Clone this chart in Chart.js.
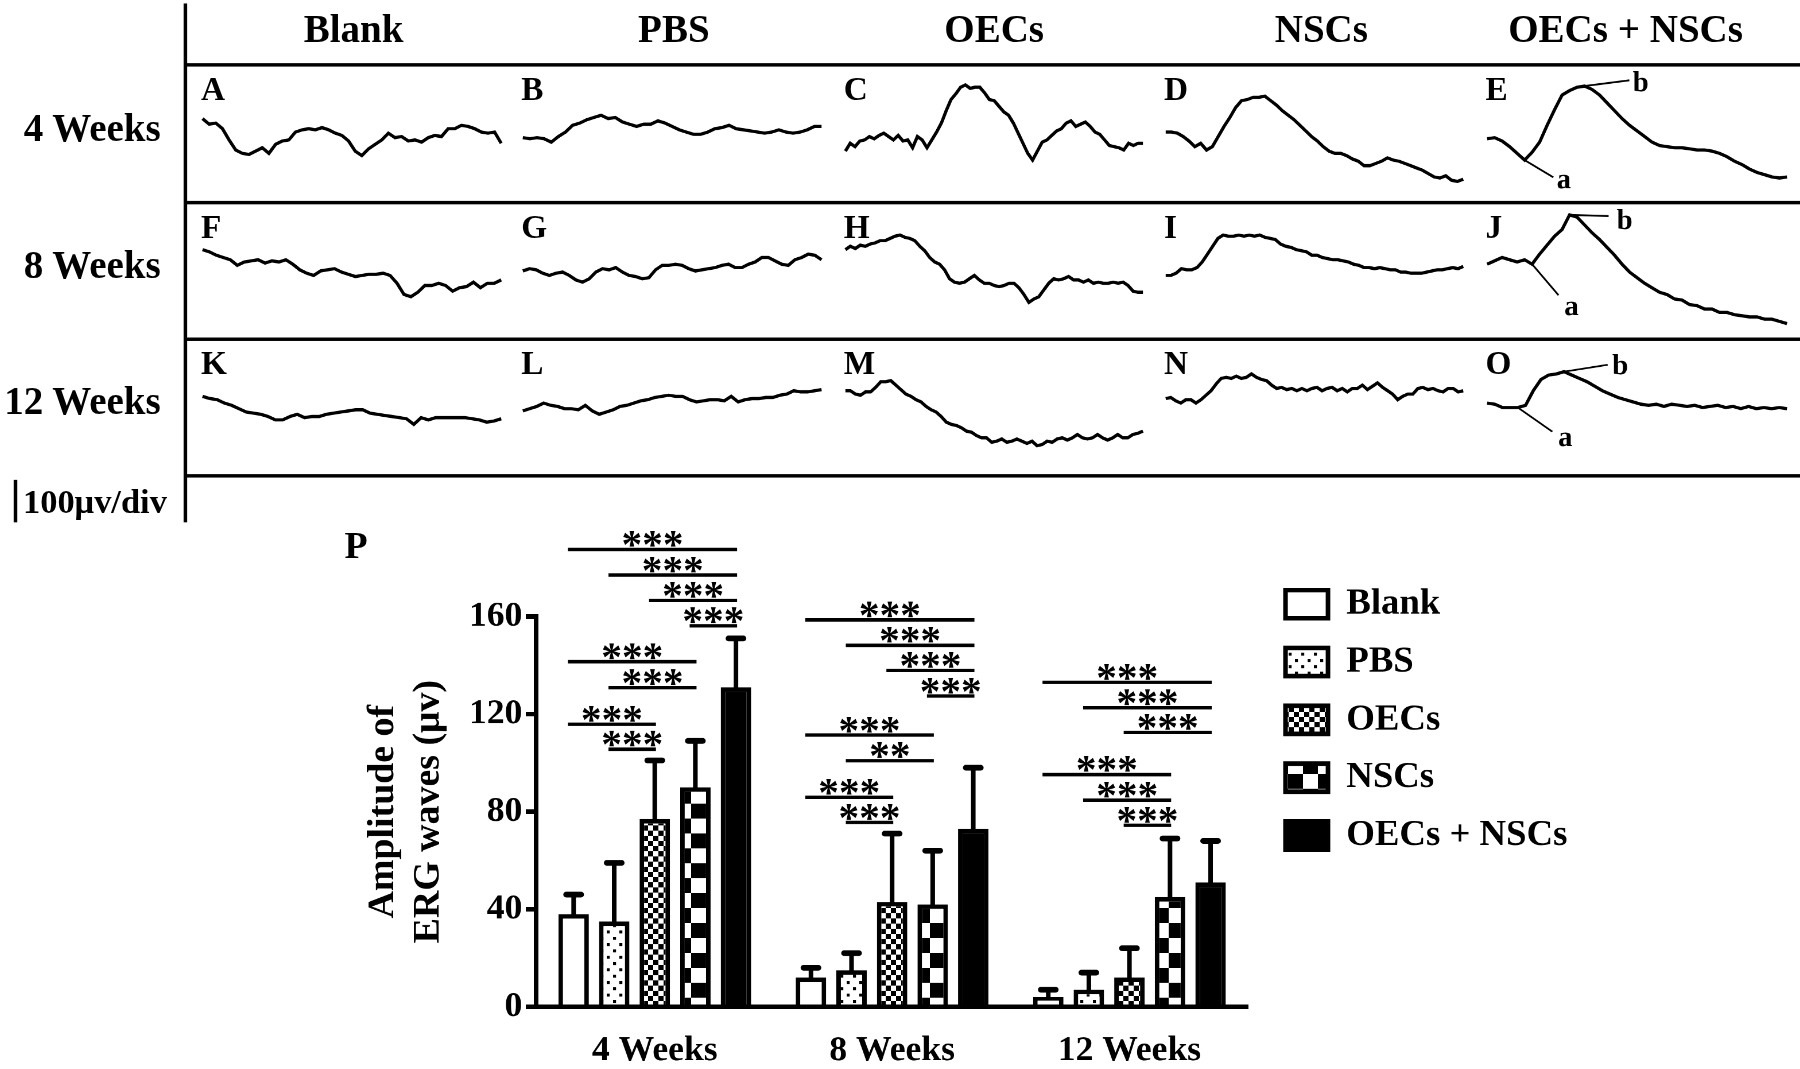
<!DOCTYPE html>
<html>
<head>
<meta charset="utf-8">
<script src="https://cdn.jsdelivr.net/npm/chart.js@4.4.1/dist/chart.umd.min.js"></script>
<style>
body { margin: 0; background: #fff; overflow: hidden; }
#page {
  position: absolute; left: 0; top: 0;
  width: 1568px; height: 931px;
  transform-origin: 0 0; transform: scale(1.148);
  font-family: "Liberation Serif", "Times New Roman", serif;
  font-weight: bold; color: #000;
}
.txt { position: absolute; white-space: nowrap; line-height: 1; }
.head { font-size: 34px; transform: translateX(-50%); }
.row { font-size: 34px; left: 0; width: 140px; text-align: right; }
.letter { font-size: 29px; }
.hline { position: absolute; left: 161px; width: 1407px; height: 3px; background: #000; }
.panel { position: absolute; }
</style>
</head>
<body>
<div id="page">
  <div style="position:absolute;left:160px;top:3px;width:3px;height:452px;background:#000"></div>
  <div class="hline" style="top:55px"></div>
  <div class="hline" style="top:175px"></div>
  <div class="hline" style="top:294px"></div>
  <div class="hline" style="top:413px"></div>

  <div class="txt head" style="left:308px;top:9px">Blank</div>
  <div class="txt head" style="left:587px;top:9px">PBS</div>
  <div class="txt head" style="left:866px;top:9px">OECs</div>
  <div class="txt head" style="left:1151px;top:9px">NSCs</div>
  <div class="txt head" style="left:1416px;top:9px">OECs + NSCs</div>

  <div class="txt row" style="top:94.5px">4 Weeks</div>
  <div class="txt row" style="top:213.5px">8 Weeks</div>
  <div class="txt row" style="top:332.5px">12 Weeks</div>

  <div style="position:absolute;left:12px;top:418px;width:3px;height:37px;background:#000"></div>
  <div class="txt" style="left:20px;top:422px;font-size:30px">100μv/div</div>

  <div class="txt" style="left:300px;top:459px;font-size:33px">P</div>

  <div id="bars" style="position:absolute;left:290px;top:440px;width:1278px;height:490px">
    <canvas id="barChart"></canvas>
  </div>
</div>

<script>
// ERG traces, amplitude (height above the panel's lower rule)
var traceA = [73,68,69,64,54,45,42,41,44,47,42,50,53,54,61,63,64,63,65,63,60,58,53,44,40,46,50,54,60,56,57,53,54,52,56,58,57,64,64,67,66,64,61,60,61,51];
var traceB = [56,55,56,55,52,57,61,67,69,72,74,76,73,74,70,68,66,68,68,71,69,66,63,61,59,59,61,64,65,67,64,63,62,61,60,61,63,61,60,61,63,66,66];
var traceC = [44,51,48,53,54,57,55,58,60,57,54,58,53,54,47,57,54,47,54,61,69,80,90,95,101,103,100,101,101,96,90,89,84,79,76,69,60,51,42,36,44,52,54,58,62,64,69,71,66,68,70,66,61,59,54,49,48,47,45,51,49,51,51];
var traceD = [61,61,60,57,53,48,51,45,48,57,66,74,83,89,90,92,92,93,89,85,80,76,72,67,62,57,53,48,44,42,42,40,37,35,31,31,33,35,38,36,35,33,31,29,27,24,21,20,22,18,17,19];
var traceE = [55,56,53,48,42,36,43,52,67,81,94,98,101,102,99,94,87,80,73,67,62,57,52,49,48,47,47,46,45,45,44,42,39,35,32,28,25,23,21,20,21];
var traceF = [79,77,74,72,70,65,68,69,70,67,69,68,70,66,61,58,56,60,61,62,59,57,55,56,57,57,58,56,49,39,37,41,47,47,49,47,42,45,46,50,45,49,49,52];
var traceG = [60,62,61,58,56,58,59,56,52,50,53,59,62,61,63,59,56,55,53,54,61,65,65,66,65,62,60,61,62,63,65,66,63,63,66,68,72,72,69,66,65,70,72,75,74,70];
var traceH = [79,82,80,83,82,84,85,87,87,89,91,92,90,89,87,82,78,72,68,66,61,53,50,49,50,53,56,52,49,49,47,46,47,49,49,45,39,32,35,37,43,49,53,52,53,55,52,52,50,52,49,50,49,49,50,49,50,47,42,41,41];
var traceI = [56,56,58,62,61,61,63,68,75,82,89,92,91,91,92,91,92,91,92,90,89,88,84,82,81,79,78,77,74,74,72,71,70,70,69,68,66,65,63,63,62,63,62,61,61,59,59,58,58,58,59,60,61,61,62,63,62,64];
var traceJ = [66,69,72,70,68,70,66,75,83,91,97,110,108,101,94,88,81,74,66,59,54,49,45,41,39,35,34,30,29,26,26,23,23,21,20,19,19,17,17,15,13];
var traceK = [70,68,67,64,62,59,56,55,54,52,49,49,52,54,51,52,52,54,55,56,57,58,58,55,54,53,52,51,50,45,51,49,51,51,51,51,51,50,49,47,48,50];
var traceL = [57,59,61,64,62,61,59,59,58,62,57,54,56,58,61,62,64,66,67,69,70,71,70,70,67,65,66,67,67,66,70,65,67,68,68,69,69,71,72,75,74,74,75,76];
var traceM = [75,75,72,71,74,74,78,83,83,84,80,76,72,70,67,65,61,58,56,52,47,45,44,42,39,38,35,33,33,29,30,32,29,30,32,30,28,30,26,27,30,29,32,33,31,33,36,33,32,33,36,33,31,33,36,33,33,36,37,39];
var traceN = [68,69,66,64,67,67,64,67,71,75,81,86,87,86,88,86,87,90,87,85,84,80,77,78,76,77,75,77,75,77,78,75,77,78,75,77,74,77,77,80,76,79,82,78,75,72,67,70,72,72,77,78,76,77,75,74,77,77,74,75];
var traceO = [64,63,60,60,60,62,75,85,89,90,92,89,86,83,79,75,72,69,67,65,63,62,63,61,63,62,61,62,60,61,62,60,61,59,61,59,60,59,60,59];

var panelLetters = ["A","B","C","D","E","F","G","H","I","J","K","L","M","N","O"];
var traces = [traceA,traceB,traceC,traceD,traceE,traceF,traceG,traceH,traceI,traceJ,traceK,traceL,traceM,traceN,traceO];
// sample index of the a-wave trough and b-wave peak in the combined-graft panels
var wavePanels = ["E","J","O"];
var aWaveIndex = [5, 6, 4];
var bWaveIndex = [13, 11, 10];

// bar chart data (µv, mean and SD)
var groups = ["4 Weeks","8 Weeks","12 Weeks"];
var seriesNames = ["Blank","PBS","OECs","NSCs","OECs + NSCs"];
var blankMean = [38, 12, 4];   var blankSd = [8, 4, 3];
var pbsMean   = [35, 15, 7];   var pbsSd   = [24, 7, 7];
var oecMean   = [77, 43, 12];  var oecSd   = [24, 28, 12];
var nscMean   = [90, 42, 45];  var nscSd   = [19, 22, 24];
var comboMean = [131, 73, 51]; var comboSd = [20, 25, 17];
var yTicks = [0, 40, 80, 120, 160];

// significance comparisons: group, series from, series to, level (µv), label
var sigGroup = [0,0,0,0,0,0,0,0, 1,1,1,1,1,1,1,1, 2,2,2,2,2,2];
var sigFrom  = [0,1,2,3,0,1,0,1, 0,1,2,3,0,1,0,1, 0,1,2,0,1,2];
var sigTo    = [4,4,4,4,3,3,2,2, 4,4,4,4,3,3,2,2, 4,4,4,3,3,3];
var sigLevel = [187.5,177,166.6,156.2,141.5,130.8,115.8,105.6, 158.6,148.2,137.9,127.4,111.4,100.9,85.9,75.6, 133,122.6,112.5,95.2,84.7,74.4];
var sigLabel = ["***","***","***","***","***","***","***","***", "***","***","***","***","***","**","***","***", "***","***","***","***","***","***"];

var serif = '"Liberation Serif", "Times New Roman", serif';
Chart.defaults.font.family = serif;
Chart.defaults.font.weight = 'bold';
Chart.defaults.color = '#000';

// ---------- trace panels ----------
var colLeft = [175, 454, 735, 1014, 1294];
var colRight = [438, 717, 997, 1276, 1558];
var rowTop = [56, 176, 295];
var rowH = 120;
// pointer offsets for the a / b labels (px)
var aPointer = {E: [25, 15, 3, 3], J: [23, 27, 5, 11], O: [30, 21, 5, 6]};
var bPointer = {E: [39, -5, 3, 3], J: [34, 1, 7, 5], O: [38, -6, 4, 2]};

var waveMarks = {
  id: 'waveMarks',
  afterDatasetsDraw: function(chart, args, opts) {
    var k = wavePanels.indexOf(opts.letter);
    if (k < 0) return;
    var pts = chart.getDatasetMeta(0).data;
    var ctx = chart.ctx;
    ctx.save();
    ctx.strokeStyle = '#000';
    ctx.fillStyle = '#000';
    ctx.lineWidth = 1.6;
    ctx.font = 'bold 25px ' + serif;
    ctx.textBaseline = 'middle';
    ctx.textAlign = 'left';
    [[aWaveIndex[k], aPointer[opts.letter], 'a'], [bWaveIndex[k], bPointer[opts.letter], 'b']].forEach(function(m) {
      var p = pts[m[0]], o = m[1];
      ctx.beginPath();
      ctx.moveTo(p.x, p.y);
      ctx.lineTo(p.x + o[0], p.y + o[1]);
      ctx.stroke();
      ctx.fillText(m[2], p.x + o[0] + o[2], p.y + o[1] + o[3]);
    });
    ctx.restore();
  }
};

var page = document.getElementById('page');
traces.forEach(function(tr, k) {
  var r = Math.floor(k / 5), c = k % 5;
  var lab = document.createElement('div');
  lab.className = 'txt letter';
  lab.style.left = colLeft[c] + 'px';
  lab.style.top = (rowTop[r] + 31 - 24.3) + 'px';
  lab.textContent = panelLetters[k];
  page.appendChild(lab);

  var box = document.createElement('div');
  box.className = 'panel';
  box.style.left = colLeft[c] + 'px';
  box.style.top = rowTop[r] + 'px';
  box.style.width = (colRight[c] - colLeft[c]) + 'px';
  box.style.height = rowH + 'px';
  var cv = document.createElement('canvas');
  box.appendChild(cv);
  page.appendChild(box);

  new Chart(cv, {
    type: 'line',
    data: {
      labels: tr.map(function(v, i) { return i; }),
      datasets: [{ data: tr, borderColor: '#000', borderWidth: 2.8, pointRadius: 0, tension: 0, fill: false }]
    },
    options: {
      responsive: true, maintainAspectRatio: false, animation: false,
      devicePixelRatio: 2, events: [],
      layout: { padding: 0 },
      scales: {
        x: { display: false },
        y: { display: false, min: 0, max: rowH }
      },
      plugins: { legend: { display: false }, tooltip: { enabled: false }, waveMarks: { letter: panelLetters[k] } }
    },
    plugins: [waveMarks]
  });
});

// ---------- bar chart ----------
function makePattern(kind) {
  var s = 2;
  var c = document.createElement('canvas');
  var g = c.getContext('2d');
  var t;
  if (kind === 'dots') {
    t = 11; c.width = c.height = t * s;
    g.fillStyle = '#fff'; g.fillRect(0, 0, t * s, t * s);
    g.fillStyle = '#000';
    g.fillRect(2 * s, 2 * s, 2.6 * s, 2.6 * s);
    g.fillRect(7.5 * s, 7.5 * s, 2.6 * s, 2.6 * s);
  } else {
    var cell = kind === 'checker' ? 4.5 : 13;
    t = cell * 2; c.width = c.height = t * s;
    g.fillStyle = '#fff'; g.fillRect(0, 0, t * s, t * s);
    g.fillStyle = '#000';
    g.fillRect(0, 0, cell * s, cell * s);
    g.fillRect(cell * s, cell * s, cell * s, cell * s);
  }
  var p = g.createPattern(c, 'repeat');
  p.setTransform(new DOMMatrix().scale(1 / s));
  return p;
}

var means = [blankMean, pbsMean, oecMean, nscMean, comboMean];
var sds = [blankSd, pbsSd, oecSd, nscSd, comboSd];
var fills = ['#fff', makePattern('dots'), makePattern('checker'), makePattern('blocks'), '#000'];

var errorBars = {
  id: 'errorBars',
  afterDatasetsDraw: function(chart) {
    var ctx = chart.ctx, y = chart.scales.y;
    ctx.save();
    ctx.strokeStyle = '#000';
    ctx.lineCap = 'round';
    chart.data.datasets.forEach(function(ds, i) {
      chart.getDatasetMeta(i).data.forEach(function(bar, j) {
        var top = y.getPixelForValue(means[i][j] + sds[i][j]);
        ctx.lineWidth = 4;
        ctx.beginPath(); ctx.moveTo(bar.x, bar.y); ctx.lineTo(bar.x, top); ctx.stroke();
        ctx.lineWidth = 5;
        ctx.beginPath(); ctx.moveTo(bar.x - 6.5, top); ctx.lineTo(bar.x + 6.5, top); ctx.stroke();
      });
    });
    ctx.restore();
  }
};

var sigLines = {
  id: 'sigLines',
  afterDatasetsDraw: function(chart) {
    var ctx = chart.ctx, y = chart.scales.y;
    ctx.save();
    ctx.strokeStyle = '#000';
    ctx.fillStyle = '#000';
    ctx.lineWidth = 3;
    ctx.font = 'bold 36px ' + serif;
    ctx.textAlign = 'center';
    ctx.textBaseline = 'alphabetic';
    sigLevel.forEach(function(lv, k) {
      var a = chart.getDatasetMeta(sigFrom[k]).data[sigGroup[k]];
      var b = chart.getDatasetMeta(sigTo[k]).data[sigGroup[k]];
      var yy = y.getPixelForValue(lv);
      var x0 = a.x - 5, x1 = b.x + 1;
      ctx.beginPath(); ctx.moveTo(x0, yy); ctx.lineTo(x1, yy); ctx.stroke();
      ctx.fillText(sigLabel[k], (x0 + x1) / 2, yy + 7.5);
    });
    ctx.restore();
  }
};

// legend sits just right of the plot, its first row a little above the 160 tick
var legendFont = 32, legendBox = 37, legendPad = 18.4;
var legendGap = 14.2, legendRise = 45.2;
var canvasW = 1278, plotRight = 796;
var meas = document.createElement('canvas').getContext('2d');
meas.font = 'bold ' + legendFont + 'px ' + serif;
var longest = Math.max.apply(null, seriesNames.map(function(n) { return meas.measureText(n).width; }));
var legendW = legendPad + legendBox + legendFont / 2 + longest + 3;

var placeLegend = {
  id: 'placeLegend',
  afterLayout: function(chart) {
    var L = chart.legend, w = L.width, h = L.height;
    L.left = chart.chartArea.right + legendGap;
    L.right = L.left + w;
    L.top = chart.chartArea.top - legendRise;
    L.bottom = L.top + h;
  }
};

new Chart(document.getElementById('barChart'), {
  type: 'bar',
  data: {
    labels: groups,
    datasets: seriesNames.map(function(name, i) {
      return {
        label: name, data: means[i],
        backgroundColor: fills[i], borderColor: '#000', borderWidth: 4,
        barPercentage: 0.75, categoryPercentage: 0.855
      };
    })
  },
  options: {
    responsive: true, maintainAspectRatio: false, animation: false,
    devicePixelRatio: 2, events: [],
    layout: { padding: { top: 97, right: Math.max(0, canvasW - plotRight - legendW), bottom: 0, left: 0 } },
    scales: {
      x: {
        grid: { display: false, drawTicks: false },
        border: { display: true, color: '#000', width: 4 },
        ticks: { color: '#000', font: { size: 31, weight: 'bold' }, padding: 20, maxRotation: 0 },
        afterFit: function(s) { s.height = 53; }
      },
      y: {
        min: 0, max: 160,
        afterBuildTicks: function(s) { s.ticks = yTicks.map(function(v) { return { value: v }; }); },
        ticks: { color: '#000', font: { size: 31, weight: 'bold' }, padding: 3 },
        grid: { drawOnChartArea: false, drawTicks: true, tickLength: 9, color: '#000', lineWidth: 4 },
        border: { display: true, color: '#000', width: 4 },
        title: {
          display: true, text: ['Amplitude of', 'ERG waves (μv)'], color: '#000',
          font: { size: 33, weight: 'bold' }, padding: { top: 24, bottom: 0 }
        },
        afterFit: function(s) { s.width = 177; }
      }
    },
    plugins: {
      tooltip: { enabled: false },
      legend: {
        position: 'right', align: 'start',
        labels: { color: '#000', font: { size: legendFont, weight: 'bold' }, boxWidth: legendBox, boxHeight: 24.5, padding: legendPad }
      }
    }
  },
  plugins: [errorBars, sigLines, placeLegend]
});
</script>
</body>
</html>
